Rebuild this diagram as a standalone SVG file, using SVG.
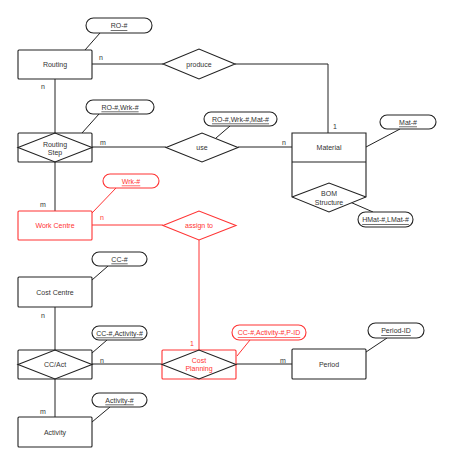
<svg xmlns="http://www.w3.org/2000/svg" width="454" height="458" viewBox="0 0 454 458">
<style>
.s{fill:#fff;stroke:#222;stroke-width:1.1}
.r{fill:#fff;stroke:#ff3333;stroke-width:1.1}
.n{fill:none;stroke:#222;stroke-width:1.1}
.c{fill:none;stroke:#222;stroke-width:1}
.cr{fill:none;stroke:#ff3333;stroke-width:1}
text{font-family:"Liberation Sans",Arial,sans-serif;font-size:7px;fill:#333;text-anchor:middle;dominant-baseline:central}
.t{fill:#ff3333}
.k{text-decoration:underline}
.l{font-size:7px;text-anchor:start}
</style>
<rect width="454" height="458" fill="#fff"/>
<g id="connectors">
<path class="c" d="M92,64H163"/>
<path class="c" d="M235,64H328V133"/>
<path class="c" d="M55,79V133"/>
<path class="c" d="M92,147H166"/>
<path class="c" d="M238,147H292"/>
<path class="c" d="M55,162V211"/>
<path class="cr" d="M92,225H163"/>
<path class="cr" d="M199,240V350"/>
<path class="c" d="M55,307V350"/>
<path class="c" d="M92,364H162"/>
<path class="c" d="M236,364H292"/>
<path class="c" d="M55,379V417"/>
<path class="c" d="M100,33L85,50"/>
<path class="c" d="M99,114L82,133"/>
<path class="c" d="M230,126L216,138"/>
<path class="c" d="M366,147L400,129"/>
<path class="c" d="M350,202L373,212"/>
<path class="cr" d="M116,188L92,213"/>
<path class="c" d="M108,266L92,280"/>
<path class="c" d="M107,340L92,353"/>
<path class="c" d="M110,407L92,422"/>
<path class="cr" d="M250,340L237,356"/>
<path class="c" d="M387,338L366,352"/>
<text class="l" x="99" y="57">n</text>
<text class="l" x="41" y="86">n</text>
<text class="l" x="100" y="142">m</text>
<text class="l" x="282" y="142">n</text>
<text class="l" x="333" y="126">1</text>
<text class="l" x="297" y="171">n</text>
<text class="l" x="350" y="171">m</text>
<text class="l" x="40" y="204">m</text>
<text class="l t" x="100" y="217">n</text>
<text class="l t" x="190" y="343">1</text>
<text class="l" x="41" y="315">n</text>
<text class="l" x="100" y="360">n</text>
<text class="l" x="280" y="360">m</text>
<text class="l" x="40" y="411">m</text>
</g>
<g id="routing"><rect class="s" x="18" y="50" width="74" height="29" rx="1"/><text x="55" y="64">Routing</text></g>
<g id="ro-key"><rect class="s" x="86" y="18" width="66" height="15" rx="7.5"/><text class="k" x="119" y="25.5">RO-#</text></g>
<g id="produce"><path class="s" d="M163,64L199,49L235,64L199,79Z"/><text x="199" y="64">produce</text></g>
<g id="routing-step"><rect class="s" x="18" y="133" width="74" height="29" rx="1"/><path class="n" d="M18,147.5L55,133L92,147.5L55,162Z"/><text x="55" y="144">Routing</text><text x="55" y="152">Step</text></g>
<g id="rowrk-key"><rect class="s" x="86" y="100" width="68" height="14" rx="7"/><text class="k" x="120" y="107">RO-#,Wrk-#</text></g>
<g id="use"><path class="s" d="M166,147.5L202,133L238,147.5L202,162Z"/><text x="202" y="147.5">use</text></g>
<g id="rowrkmat-key"><rect class="s" x="204" y="112" width="73" height="14" rx="7"/><text class="k" x="240.5" y="119">RO-#,Wrk-#,Mat-#</text></g>
<g id="material"><path class="s" d="M292,133H366V197L329,212L292,197Z"/><path class="n" d="M292,162H366M292,197L329,183L366,197"/><text x="329" y="147">Material</text><text x="329" y="193">BOM</text><text x="329" y="202">Structure</text></g>
<g id="mat-key"><rect class="s" x="380" y="115" width="56" height="14" rx="7"/><text class="k" x="408" y="122">Mat-#</text></g>
<g id="hmat-key"><rect class="s" x="358" y="212" width="55" height="15" rx="7.5"/><text class="k" x="385.5" y="219.5">HMat-#,LMat-#</text></g>
<g id="work-centre"><rect class="r" x="18" y="211" width="74" height="29" rx="1"/><text class="t" x="55" y="225">Work Centre</text></g>
<g id="wrk-key"><rect class="r" x="103" y="174" width="56" height="14" rx="7"/><text class="k t" x="131" y="181">Wrk-#</text></g>
<g id="assign-to"><path class="r" d="M163,225.5L199,211L236,225.5L199,240Z"/><text class="t" x="199" y="225.5">assign to</text></g>
<g id="cost-centre"><rect class="s" x="18" y="277" width="74" height="30" rx="1"/><text x="55" y="292">Cost Centre</text></g>
<g id="cc-key"><rect class="s" x="92" y="252" width="55" height="14" rx="7"/><text class="k" x="119.5" y="259">CC-#</text></g>
<g id="cc-act"><rect class="s" x="18" y="350" width="74" height="29" rx="1"/><path class="n" d="M18,364.5L55,350L92,364.5L55,379Z"/><text x="55" y="364.5">CC/Act</text></g>
<g id="ccact-key"><rect class="s" x="92" y="326" width="55" height="14" rx="7"/><text class="k" x="119.5" y="333">CC-#,Activity-#</text></g>
<g id="activity"><rect class="s" x="18" y="417" width="74" height="30" rx="1"/><text x="55" y="432">Activity</text></g>
<g id="activity-key"><rect class="s" x="92" y="393" width="55" height="14" rx="7"/><text class="k" x="119.5" y="400">Activity-#</text></g>
<g id="cost-planning"><rect class="r" x="162" y="350" width="74" height="29" rx="1"/><path class="n" d="M162,364.5L199,350L236,364.5L199,379Z"/><text class="t" x="199" y="360">Cost</text><text class="t" x="199" y="368.5">Planning</text></g>
<g id="ccactpid-key"><rect class="r" x="232" y="325" width="74" height="15" rx="7.5"/><text class="k t" x="269" y="332.5">CC-#,Activity-#,P-ID</text></g>
<g id="period"><rect class="s" x="292" y="349" width="74" height="30" rx="1"/><text x="329" y="364">Period</text></g>
<g id="period-key"><rect class="s" x="368" y="323" width="56" height="15" rx="7.5"/><text class="k" x="396" y="330.5">Period-ID</text></g>
</svg>
